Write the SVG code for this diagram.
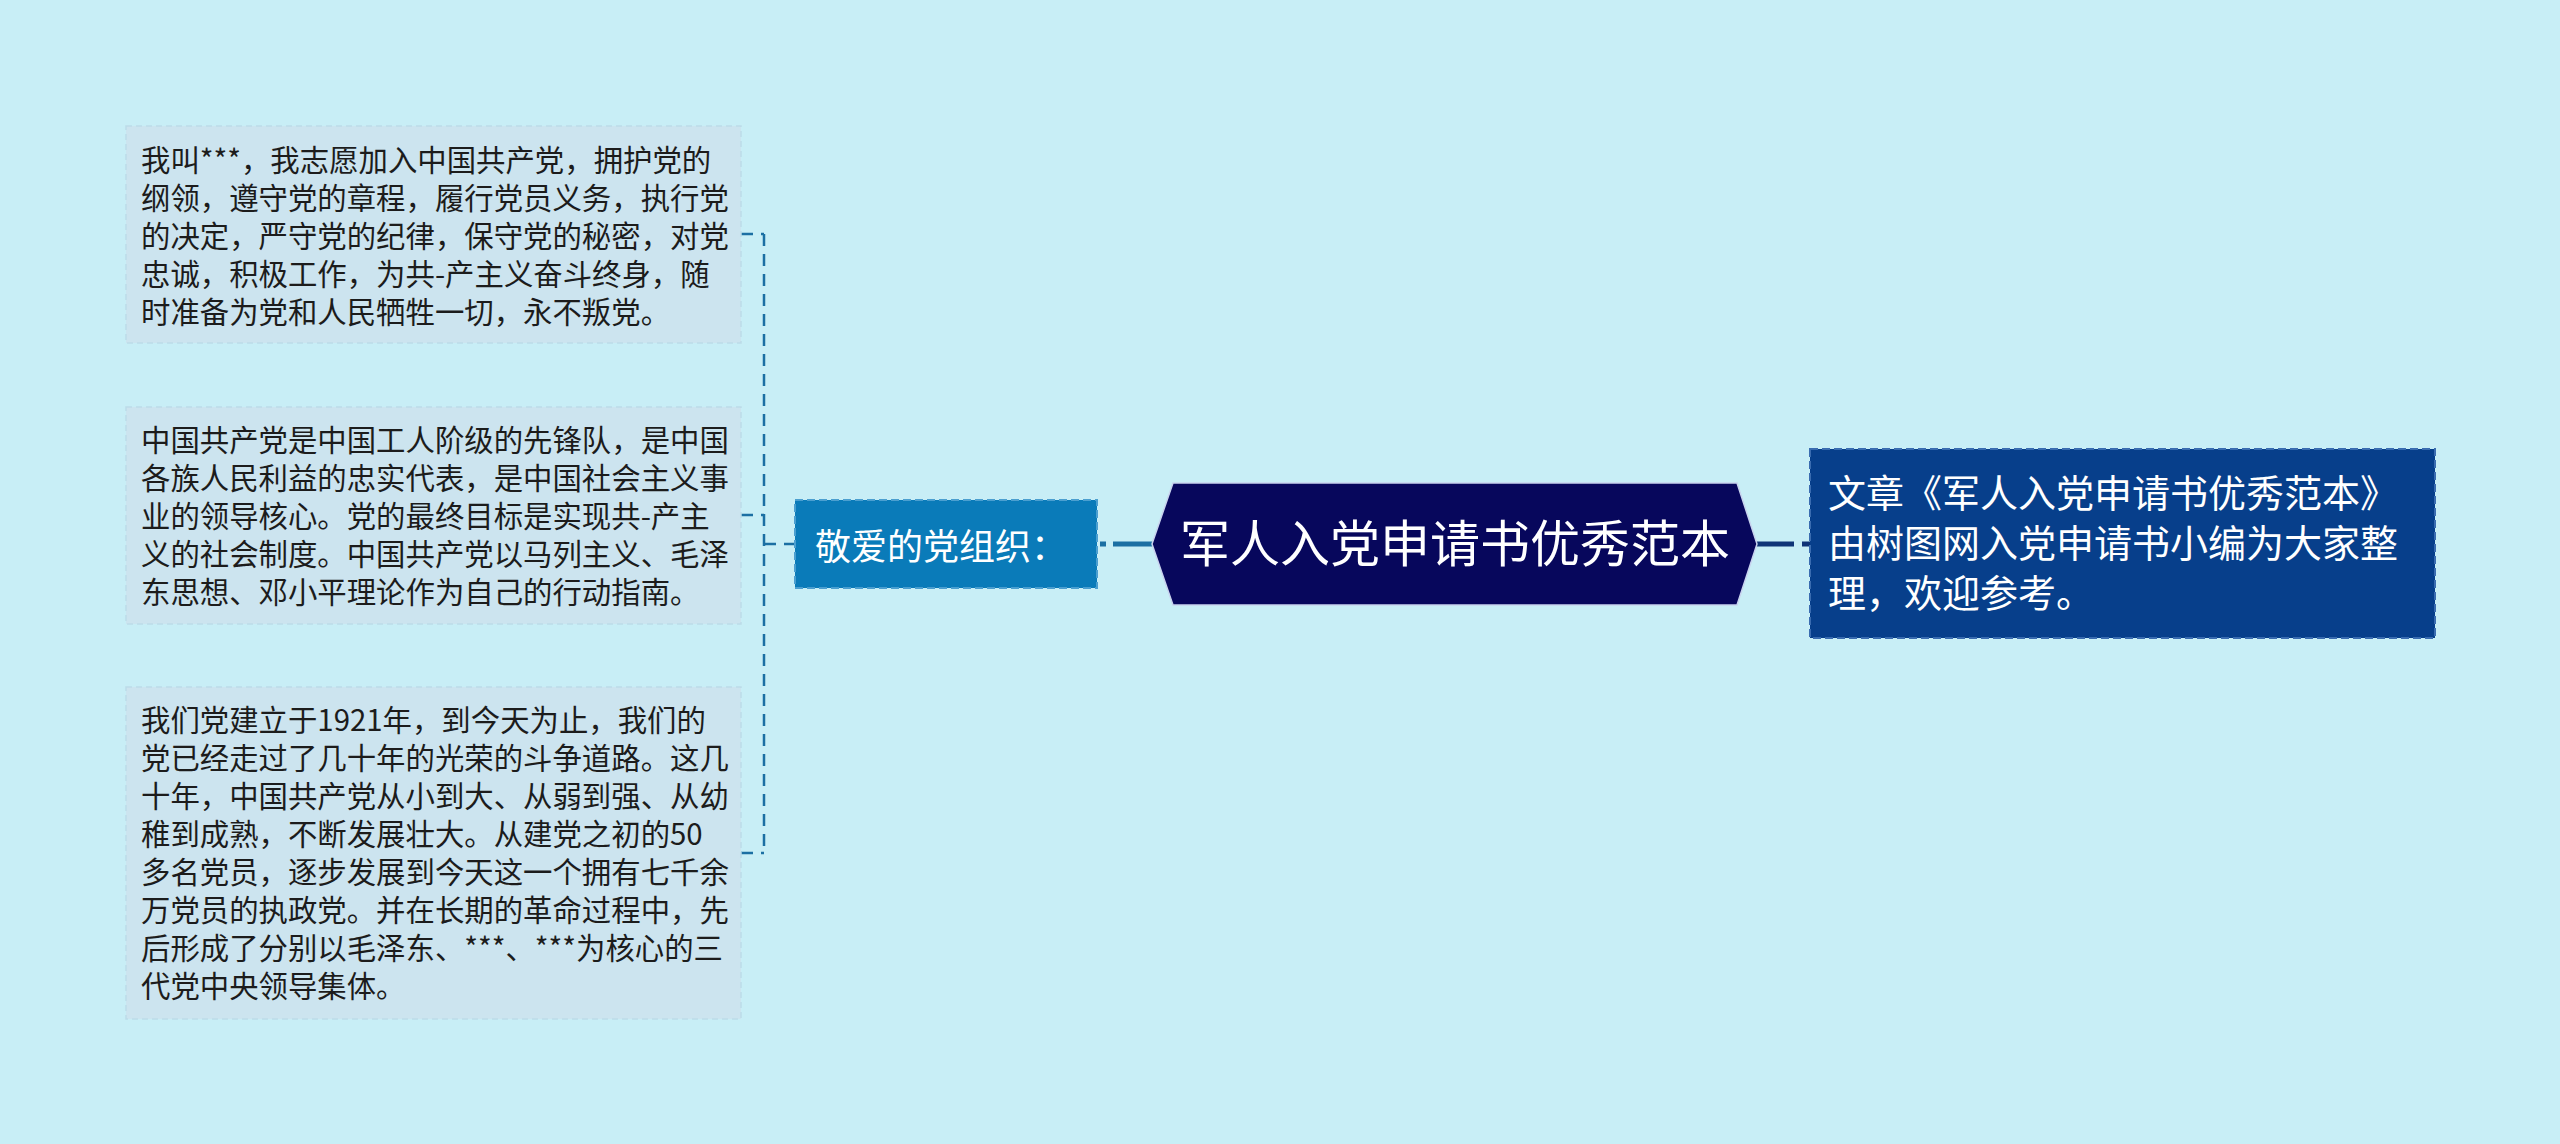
<svg xmlns="http://www.w3.org/2000/svg" width="2560" height="1144" viewBox="0 0 2560 1144">
<style>
text { font-family: "Noto Sans CJK SC", "Noto Sans", sans-serif; }
.leafbox { fill: #cce4ef; stroke: #bcdbe9; stroke-width: 1.5; stroke-dasharray: 6 4; }
.leaftext { font-size: 29.4px; fill: #1c1c1c; }
.conn-left { fill: none; stroke: #1b6fa3; stroke-width: 2.5; stroke-dasharray: 12 8; }
.conn-solid { fill: none; stroke: #1b6fa3; stroke-width: 5; }
.conn-right { fill: none; stroke: #0f3477; stroke-width: 5; }
</style>
<rect x="0" y="0" width="2560" height="1144" fill="#c8eef6"/>

<g id="connectors">
  <path class="conn-left" d="M764 234 V853"/>
  <path class="conn-left" d="M741 234 H764"/>
  <path class="conn-left" d="M741 515 H764"/>
  <path class="conn-left" d="M741 853 H764"/>
  <path class="conn-left" d="M764 544 H795"/>
  <path class="conn-solid" d="M1100 544 H1106 M1113 544 H1152"/>
  <path class="conn-right" d="M1757 544 H1794 M1802 544 H1810"/>
</g>

<g id="leaf1">
  <rect class="leafbox" x="126" y="126" width="615" height="217"/>
  <text class="leaftext">
    <tspan x="141" y="171">我叫***，我志愿加入中国共产党，拥护党的</tspan>
    <tspan x="141" y="209">纲领，遵守党的章程，履行党员义务，执行党</tspan>
    <tspan x="141" y="247">的决定，严守党的纪律，保守党的秘密，对党</tspan>
    <tspan x="141" y="285">忠诚，积极工作，为共-产主义奋斗终身，随</tspan>
    <tspan x="141" y="323">时准备为党和人民牺牲一切，永不叛党。</tspan>
  </text>
</g>

<g id="leaf2">
  <rect class="leafbox" x="126" y="407" width="615" height="217"/>
  <text class="leaftext">
    <tspan x="141" y="451">中国共产党是中国工人阶级的先锋队，是中国</tspan>
    <tspan x="141" y="489">各族人民利益的忠实代表，是中国社会主义事</tspan>
    <tspan x="141" y="527">业的领导核心。党的最终目标是实现共-产主</tspan>
    <tspan x="141" y="565">义的社会制度。中国共产党以马列主义、毛泽</tspan>
    <tspan x="141" y="603">东思想、邓小平理论作为自己的行动指南。</tspan>
  </text>
</g>

<g id="leaf3">
  <rect class="leafbox" x="126" y="687" width="615" height="332"/>
  <text class="leaftext">
    <tspan x="141" y="731">我们党建立于1921年，到今天为止，我们的</tspan>
    <tspan x="141" y="769">党已经走过了几十年的光荣的斗争道路。这几</tspan>
    <tspan x="141" y="807">十年，中国共产党从小到大、从弱到强、从幼</tspan>
    <tspan x="141" y="845">稚到成熟，不断发展壮大。从建党之初的50</tspan>
    <tspan x="141" y="883">多名党员，逐步发展到今天这一个拥有七千余</tspan>
    <tspan x="141" y="921">万党员的执政党。并在长期的革命过程中，先</tspan>
    <tspan x="141" y="959">后形成了分别以毛泽东、***、***为核心的三</tspan>
    <tspan x="141" y="997">代党中央领导集体。</tspan>
  </text>
</g>

<g id="subnode">
  <rect x="795" y="500" width="302" height="88" fill="#0a7bb9" stroke="#4b9fd0" stroke-width="2" stroke-dasharray="8 4"/>
  <text x="815" y="560" font-size="36" fill="#ffffff">敬爱的党组织：</text>
</g>

<g id="root">
  <polygon points="1152,544 1173,483 1737,483 1757,544 1737,605 1173,605" fill="#07075c" stroke="#c9d3ee" stroke-width="1.5"/>
  <text x="1455" y="562" font-size="50" fill="#ffffff" text-anchor="middle">军人入党申请书优秀范本</text>
</g>

<g id="note">
  <rect x="1810" y="449" width="625" height="189" fill="#073f8b" stroke="#3a6cb0" stroke-width="2" stroke-dasharray="8 4"/>
  <text font-size="38" fill="#ffffff">
    <tspan x="1828" y="507">文章《军人入党申请书优秀范本》</tspan>
    <tspan x="1828" y="557">由树图网入党申请书小编为大家整</tspan>
    <tspan x="1828" y="607">理，欢迎参考。</tspan>
  </text>
</g>
</svg>
